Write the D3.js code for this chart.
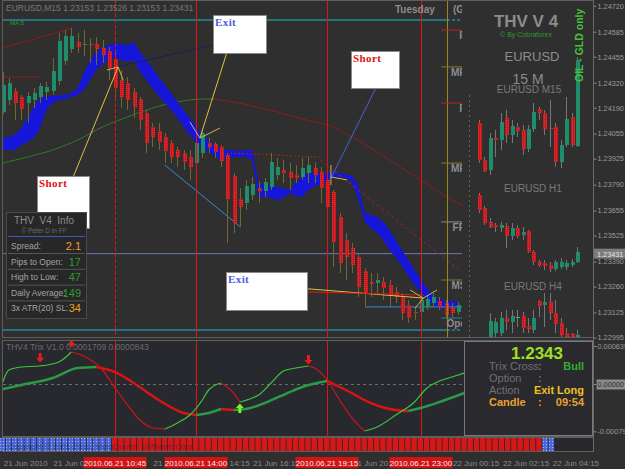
<!DOCTYPE html>
<html>
<head>
<meta charset="utf-8">
<script src="https://cdn.jsdelivr.net/npm/d3@7"></script>
<style>
  body { margin: 0; background: #2f2f2f; }
  svg { display: block; }
  text { font-family: "Liberation Sans", Arial, sans-serif; }
</style>
</head>
<body>
<svg id="chart" width="625" height="469"></svg>
<script>
// EURUSD M15 candles, index 0..73 (visible part of the main window)
var open = [1.24168,1.24230,1.24277,1.24246,1.24214,1.24230,1.24246,1.24272,1.24277,1.24329,
  1.24433,1.24495,1.24532,1.24516,1.24521,1.24521,1.24500,1.24485,1.24443,1.24334,
  1.24318,1.24272,1.24235,1.24162,1.24090,1.24069,1.24038,1.24006,1.23970,1.23954,
  1.23934,1.23902,1.23954,1.24006,1.24001,1.23986,1.23944,1.23835,1.23715,1.23694,
  1.23736,1.23772,1.23757,1.23778,1.23840,1.23866,1.23856,1.23840,1.23830,1.23850,
  1.23876,1.23856,1.23814,1.23752,1.23622,1.23502,1.23460,1.23414,1.23341,1.23284,
  1.23278,1.23284,1.23268,1.23232,1.23206,1.23164,1.23128,1.23128,1.23154,1.23174,
  1.23185,1.23174,1.23148,1.23128];
var high = [1.24376,1.24344,1.24292,1.24256,1.24272,1.24292,1.24318,1.24324,1.24448,1.24578,
  1.24594,1.24604,1.24578,1.24594,1.24552,1.24558,1.24542,1.24506,1.24474,1.24386,
  1.24350,1.24292,1.24246,1.24178,1.24110,1.24110,1.24058,1.24022,1.23986,1.23970,
  1.23970,1.24058,1.24074,1.24032,1.24012,1.23996,1.23954,1.23850,1.23772,1.23814,
  1.23830,1.23804,1.23824,1.23954,1.23928,1.23918,1.23902,1.23892,1.23928,1.23934,
  1.23908,1.23882,1.23830,1.23762,1.23642,1.23538,1.23486,1.23434,1.23356,1.23330,
  1.23330,1.23310,1.23294,1.23258,1.23226,1.23190,1.23154,1.23216,1.23216,1.23226,
  1.23206,1.23190,1.23174,1.23180];
var low = [1.24157,1.24204,1.24126,1.24126,1.24110,1.24188,1.24214,1.24230,1.24256,1.24308,
  1.24412,1.24474,1.24474,1.24459,1.24422,1.24412,1.24422,1.24334,1.24246,1.24188,
  1.24178,1.24136,1.24074,1.23954,1.23986,1.23970,1.23902,1.23902,1.23882,1.23866,
  1.23814,1.23892,1.23928,1.23954,1.23928,1.23882,1.23486,1.23538,1.23570,1.23658,
  1.23710,1.23694,1.23726,1.23762,1.23814,1.23798,1.23762,1.23798,1.23814,1.23798,
  1.23798,1.23694,1.23606,1.23362,1.23330,1.23294,1.23330,1.23206,1.23154,1.23206,
  1.23226,1.23190,1.23154,1.23174,1.23086,1.23070,1.23086,1.23102,1.23138,1.23154,
  1.23138,1.23096,1.23102,1.23112];
var close = [1.24308,1.24318,1.24214,1.24183,1.24251,1.24266,1.24303,1.24298,1.24381,1.24537,
  1.24563,1.24563,1.24506,1.24521,1.24516,1.24495,1.24464,1.24396,1.24292,1.24246,
  1.24230,1.24194,1.24126,1.24006,1.24038,1.24012,1.23965,1.23934,1.23934,1.23908,
  1.23882,1.24006,1.24058,1.23986,1.23960,1.23913,1.23715,1.23590,1.23674,1.23783,
  1.23793,1.23757,1.23804,1.23908,1.23882,1.23850,1.23824,1.23824,1.23876,1.23892,
  1.23840,1.23772,1.23674,1.23492,1.23382,1.23414,1.23372,1.23258,1.23226,1.23273,
  1.23294,1.23252,1.23216,1.23206,1.23122,1.23096,1.23122,1.23190,1.23195,1.23206,
  1.23159,1.23112,1.23122,1.23164];

// blue cloud band
var cloudTop = [1.24032,1.24038,1.24053,1.24084,1.24136,1.24199,1.24240,1.24251,1.24251,1.24256,
  1.24256,1.24266,1.24292,1.24370,1.24438,1.24480,1.24500,1.24516,1.24526,1.24521,
  1.24516,1.24532,1.24480,1.24438,1.24396,1.24350,1.24308,1.24266,1.24220,1.24178,
  1.24136,1.24095,1.24048,1.24022,1.23996,1.23975,1.23970,1.23970,1.23965,1.23970,
  1.23970,1.23798,1.23788,1.23783,1.23778,1.23772,1.23762,1.23804,1.23830,1.23850,
  1.23850,1.23850,1.23850,1.23850,1.23850,1.23845,1.23835,1.23788,1.23642,1.23632,
  1.23622,1.23596,1.23554,1.23502,1.23450,1.23398,1.23346,1.23299,1.23252,1.23211,
  1.23195,1.23185,1.23185,1.23180];
var cloudBot = [1.23970,1.23970,1.23970,1.23996,1.24012,1.24032,1.24084,1.24178,1.24214,1.24230,
  1.24235,1.24246,1.24256,1.24282,1.24334,1.24386,1.24417,1.24438,1.24448,1.24438,
  1.24428,1.24438,1.24376,1.24334,1.24292,1.24251,1.24214,1.24178,1.24136,1.24090,
  1.24048,1.24012,1.23980,1.23960,1.23939,1.23918,1.23934,1.23934,1.23934,1.23934,
  1.23918,1.23720,1.23726,1.23720,1.23710,1.23720,1.23746,1.23731,1.23726,1.23762,
  1.23783,1.23788,1.23814,1.23824,1.23830,1.23824,1.23798,1.23710,1.23596,1.23564,
  1.23538,1.23502,1.23450,1.23408,1.23367,1.23315,1.23268,1.23232,1.23190,1.23164,
  1.23143,1.23148,1.23154,1.23154];

// long moving average
var maIdx = [0,4,8,12,16,20,24,28,32,34,36,40,44,48,52,56,60,64,68,72,74];
var maVal = [1.23902,1.23934,1.23970,1.24022,1.24090,1.24142,1.24188,1.24220,1.24235,1.24235,
  1.24225,1.24199,1.24168,1.24131,1.24100,1.24038,1.23960,1.23876,1.23793,1.23710,1.23680];

// trix lines (lower window)
var fastIdx = [0,1,3,6,9,11,13,16,18,20,22,24,26,28,30,32,33,35,37,38,
  40,41,43,45,48,49,50,52,54,56,58,60,63,66,68,70,72,74];
var fastVal = [0.000033,0.000234,0.000284,0.000301,0.000367,0.000534,0.000468,0.000234,-0.000067,-0.000351,
  -0.000601,-0.000735,-0.000752,-0.000651,-0.000518,-0.000267,-0.000100,0.000017,-0.000150,-0.000301,
  -0.000234,-0.000184,0.000017,0.000217,0.000284,0.000301,0.000267,0.000067,-0.000267,-0.000568,
  -0.000785,-0.000718,-0.000518,-0.000301,-0.000067,0.000050,0.000117,0.000184];
var slowIdx = [0,3,8,12,15,18,21,25,29,31,33,35,37,39,42,46,48,52,55,59,62,65,67,70,74];
var slowVal = [-0.000084,-0.000017,0.000100,0.000267,0.000284,0.000200,0.000017,-0.000267,-0.000484,-0.000518,
  -0.000484,-0.000418,-0.000434,-0.000418,-0.000317,-0.000134,-0.000050,0.000050,-0.000100,-0.000317,
  -0.000418,-0.000451,-0.000401,-0.000301,-0.000150];
var downArrowIdx = [6, 11, 49];
var downArrowVal = [0.000434, 0.000685, 0.000401];
var upArrowIdx = [38];
var upArrowVal = [-0.000401];

// colour bar: 1 = bull (blue), -1 = bear (red)
var barState = [1,1,1,1,1,1,1,1,1,1, 1,1,1,1,1,1,1,1,
  -1,-1,-1,-1,-1,-1,-1,-1,-1,-1, -1,-1,-1,-1,-1,-1,-1,-1,-1,-1,
  -1,-1,-1,-1,-1,-1,-1,-1,-1,-1, -1,-1,-1,-1,-1,-1,-1,-1,-1,-1,
  -1,-1,-1,-1,-1,-1,-1,-1,-1,-1, -1,-1,-1,-1,-1,-1,-1,-1,-1,-1,
  -1,-1,-1,-1,-1,-1,-1,-1,-1, 1,1];

// mini charts in the THV panel
var m15Open = [1.24110,1.23918,1.23866,1.24032,1.24022,1.24136,1.24048,1.24090,1.24074,1.23975,1.24079,1.24183,1.24162,1.24084,1.24090,1.23908,1.23996,1.24142,1.23991];
var m15High = [1.24126,1.23934,1.24058,1.24074,1.24162,1.24178,1.24126,1.24110,1.24100,1.24100,1.24214,1.24194,1.24178,1.24230,1.24110,1.24022,1.24246,1.24162,1.24454];
var m15Low = [1.23902,1.23856,1.23840,1.23934,1.23970,1.24006,1.24006,1.24038,1.23944,1.23960,1.24064,1.24126,1.24048,1.23986,1.23882,1.23876,1.23986,1.23986,1.23986];
var m15Close = [1.23918,1.23861,1.24032,1.24022,1.24116,1.24048,1.24095,1.24069,1.23975,1.24079,1.24168,1.24162,1.24079,1.24079,1.23908,1.23996,1.24131,1.23996,1.24438];
var h1Open = [1.23736,1.23668,1.23596,1.23580,1.23564,1.23575,1.23523,1.23564,1.23528,1.23549,1.23440,1.23388,1.23382,1.23372,1.23351,1.23362,1.23362,1.23372,1.23388];
var h1High = [1.23746,1.23679,1.23616,1.23590,1.23596,1.23590,1.23590,1.23580,1.23570,1.23554,1.23450,1.23398,1.23398,1.23388,1.23398,1.23408,1.23398,1.23403,1.23466];
var h1Low = [1.23642,1.23580,1.23564,1.23544,1.23544,1.23460,1.23502,1.23512,1.23502,1.23434,1.23372,1.23362,1.23346,1.23336,1.23341,1.23351,1.23346,1.23362,1.23382];
var h1Close = [1.23658,1.23590,1.23570,1.23570,1.23580,1.23523,1.23564,1.23523,1.23544,1.23440,1.23388,1.23372,1.23367,1.23351,1.23388,1.23388,1.23382,1.23388,1.23440];
var h4Open = [1.22998,1.23018,1.23018,1.23096,1.23076,1.23102,1.23107,1.23055,1.23034,1.23185,1.23164,1.23180,1.23122,1.23070,1.23018,1.23013,1.22998];
var h4High = [1.23122,1.23096,1.23128,1.23138,1.23138,1.23138,1.23128,1.23096,1.23138,1.23190,1.23226,1.23226,1.23190,1.23096,1.23044,1.23020,1.23034];
var h4Low = [1.22998,1.22998,1.23003,1.23034,1.23018,1.23049,1.23018,1.23018,1.23018,1.23102,1.23049,1.23086,1.23018,1.22998,1.22998,1.22998,1.22998];
var h4Close = [1.23081,1.23076,1.23096,1.23076,1.23107,1.23102,1.23044,1.23039,1.23096,1.23159,1.23180,1.23122,1.23065,1.23008,1.22998,1.22998,1.23008];

// levels, drawn objects, labels
var priceTicks = [1.24720,1.24585,1.24455,1.24320,1.24190,1.24055,1.23925,1.23790,1.23655,1.23525,1.23390,1.23260,1.23125,1.22995];
var lastPrice = 1.23431;
var tealLevels = [1.24646, 1.23034];
var pivotPrice = [1.24594,1.24402,1.24214,1.23902,1.23596,1.23294,1.23096];
var pivotLabel = ["R2","MR2","R1","MR1","FPP","MS1","Open"];
var vLineIdx = [18, 31, 52, 67];
var vLineLabel = ["2010.06.21 10:45","2010.06.21 14:00","2010.06.21 19:15","2010.06.21 23:00"];
var dayLineIdx = 71.2;
var timeIdx = [0,8,24,32,40,56,72,80,88];
var timeLabel = ["21 Jun 2010","21 Jun 08:15","21 Jun 12:15","21 Jun 14:15","21 Jun 16:15",
  "21 Jun 20:15","22 Jun 00:15","22 Jun 02:15","22 Jun 04:15"];
var trixTicks = [0.000635, 0, -0.00079];
var trixTickLabel = ["0.000635","0.00000","-0.00079"];

var redTrend = [[0,1.24500,11.1,1.24604],[0,1.24350,6,1.24350]];
var navyTrend = [[18.3,1.24402,33.7,1.24516]];
var yellowLinks = [[11.3,1.23830,18.5,1.24402],[35.9,1.24474,31.6,1.24032],[43.2,1.23263,67.4,1.23200]];
var blueLinks = [[59.8,1.24292,52.6,1.23824]];
var redLinks = [[48.8,1.23232,67.4,1.23216]];
var lightBlue = [[26.0,1.23892,38.1,1.23570],[58.1,1.23154,73.6,1.23154]];
var redDotted = [[36.4,1.23954,50.9,1.23934]];
var redDashed = [[50.9,1.23918,73.6,1.23336]];
var fanLines = [[18.5,1.24402,16.7,1.24386],[18.5,1.24402,19.3,1.24334],[31.6,1.24032,30.0,1.24116],
  [31.6,1.24032,34.8,1.24084],[52.6,1.23892,52.6,1.23788],[52.6,1.23830,55.2,1.23814],
  [67.4,1.23200,65.3,1.23242],[67.4,1.23200,69.6,1.23242],[67.4,1.23200,66.1,1.23148]];
var boxIdx = [5.5, 33.7, 55.8, 35.8];
var boxPrice = [1.23835, 1.24672, 1.24485, 1.23336];
var boxLabel = ["Short", "Exit", "Short", "Exit"];

var infoRows = ["Spread:", "Pips to Open:", "High to Low:", "Daily Average:", "3x ATR(20) SL:"];
var infoValues = ["2.1", "17", "47", "149", "34"];

// ---------------------------------------------------------------
var svg = d3.select("#chart");
var bg = "#2f2f2f", frameCol = "#5e5e5e", txt = "#8c8c8c";
var upCol = "#1f8c6c", dnCol = "#c8181c", wickCol = "#6e6a2a";
var boxSize = [[52, 52], [53, 38], [48, 37], [81, 38]];
var axisFont = "'Liberation Sans', Arial, sans-serif";

var x = d3.scaleLinear().domain([0, 73]).range([2.7, 458.2]);
var y = d3.scaleLinear().domain([1.2475, 1.2300]).range([0, 336.54]);
var yt = d3.scaleLinear().domain([0.000735, -0.000885]).range([340, 437]);
var xm = d3.scaleLinear().domain([0, 18]).range([479, 577]);

svg.append("rect").attr("width", 625).attr("height", 469).attr("fill", bg);

var defs = svg.append("defs");
defs.append("clipPath").attr("id", "clipMain").append("rect")
  .attr("x", 3).attr("y", 1).attr("width", 590).attr("height", 336);
defs.append("clipPath").attr("id", "clipMini").append("rect")
  .attr("x", 462).attr("y", 1).attr("width", 131).attr("height", 336);
defs.append("clipPath").attr("id", "clipTrix").append("rect")
  .attr("x", 3).attr("y", 341).attr("width", 590).attr("height", 96);
var pat = defs.append("pattern").attr("id", "hatch").attr("width", 3).attr("height", 3)
  .attr("patternUnits", "userSpaceOnUse");
pat.append("rect").attr("width", 3).attr("height", 3).attr("fill", "#4a68dc");
pat.append("rect").attr("width", 1).attr("height", 1).attr("fill", "#a8b8ff");
var redPat = defs.append("pattern").attr("id", "redDots").attr("width", 2).attr("height", 2)
  .attr("patternUnits", "userSpaceOnUse");
redPat.append("rect").attr("width", 2).attr("height", 2).attr("fill", dnCol);
redPat.append("rect").attr("width", 1).attr("height", 1).attr("fill", "#e0343a");

function runs(val) {
  var out = [], cur = [0], up = val[1] >= val[0];
  for (var k = 1; k < val.length; k++) {
    var u = val[k] >= val[k - 1];
    if (u !== up) { out.push({up: up, pts: cur}); cur = [k - 1]; up = u; }
    cur.push(k);
  }
  out.push({up: up, pts: cur});
  return out;
}

function drawRuns(g, idx, val, xs, ys, upC, dnC, w) {
  var line = d3.line().x(function(k) { return xs(idx[k]); })
    .y(function(k) { return ys(val[k]); }).curve(d3.curveMonotoneX);
  runs(val).forEach(function(r) {
    g.append("path").attr("d", line(r.pts)).attr("fill", "none")
      .attr("stroke", r.up ? upC : dnC).attr("stroke-width", w);
  });
}

function segs(g, list, color, width, dash) {
  g.selectAll(null).data(list).join("line")
    .attr("x1", function(d) { return x(d[0]); }).attr("y1", function(d) { return y(d[1]); })
    .attr("x2", function(d) { return x(d[2]); }).attr("y2", function(d) { return y(d[3]); })
    .attr("stroke", color).attr("stroke-width", width || 1)
    .attr("stroke-dasharray", dash || null);
}

function candles(g, xs, o, h, l, c, bw, wc) {
  var idx = d3.range(o.length);
  g.selectAll(null).data(idx).join("line")
    .attr("x1", function(i) { return Math.round(xs(i)) + 0.5; })
    .attr("x2", function(i) { return Math.round(xs(i)) + 0.5; })
    .attr("y1", function(i) { return y(h[i]); }).attr("y2", function(i) { return y(l[i]); })
    .attr("stroke", wc).attr("shape-rendering", "crispEdges");
  g.selectAll(null).data(idx).join("rect")
    .attr("x", function(i) { return Math.round(xs(i)) - Math.floor(bw / 2) + 0.5; })
    .attr("y", function(i) { return y(Math.max(o[i], c[i])); })
    .attr("width", bw)
    .attr("height", function(i) { return Math.max(1, Math.abs(y(o[i]) - y(c[i]))); })
    .attr("fill", function(i) { return c[i] > o[i] ? upCol : (c[i] < o[i] ? "url(#redDots)" : "#8a8a8a"); })
    .attr("shape-rendering", "crispEdges");
}

// ---------------- main window ----------------
var main = svg.append("g").attr("clip-path", "url(#clipMain)");

main.selectAll(null).data(tealLevels).join("line")
  .attr("x1", 3).attr("x2", 447).attr("y1", function(d) { return y(d); }).attr("y2", function(d) { return y(d); })
  .attr("stroke", "#1e8c9c").attr("stroke-width", 1.5);
main.selectAll(null).data(tealLevels).join("line")
  .attr("x1", 447).attr("x2", 462).attr("y1", function(d) { return y(d); }).attr("y2", function(d) { return y(d); })
  .attr("stroke", "#1e8c9c").attr("stroke-width", 1.5).attr("stroke-dasharray", "3,2");
main.append("line").attr("x1", 3).attr("x2", 462).attr("y1", y(lastPrice)).attr("y2", y(lastPrice))
  .attr("stroke", "#6a7ab4");

drawRuns(main, maIdx, maVal, x, y, "#2c7a2c", "#8e1c1c", 1);

main.append("path").datum(d3.range(cloudTop.length))
  .attr("d", d3.area().x(function(i) { return x(i); })
    .y0(function(i) { return y(cloudBot[i]); }).y1(function(i) { return y(cloudTop[i]); }))
  .attr("fill", "#1616d8");

segs(main, redTrend, "#8e1c1c", 1);
segs(main, navyTrend, "#1c1c60", 1);
segs(main, redDotted, "#b02020", 1, "2,2");
segs(main, redDashed, "#a82020", 1, "3,3");
segs(main, lightBlue, "#3a88d0", 1);

candles(main, x, open, high, low, close, 4, wickCol);

main.selectAll(null).data(vLineIdx).join("line")
  .attr("x1", function(d) { return Math.round(x(d)) + 0.5; }).attr("x2", function(d) { return Math.round(x(d)) + 0.5; })
  .attr("y1", 1).attr("y2", 337).attr("stroke", "#e01414")
  .attr("stroke-dasharray", function(d, k) { return k === 0 ? "4,2" : null; });
main.append("line").attr("x1", Math.round(x(dayLineIdx)) + 0.5).attr("x2", Math.round(x(dayLineIdx)) + 0.5)
  .attr("y1", 1).attr("y2", 337).attr("stroke", "#9a8a14");

segs(main, yellowLinks, "#e0c040", 1);
segs(main, redLinks, "#e01818", 1);
segs(main, blueLinks, "#4a64d8", 1);
segs(main, fanLines, "#c8b458", 1);

// pivot levels at right edge (partly hidden by the panel)
main.selectAll(null).data(pivotPrice).join("line")
  .attr("x1", x(70.3)).attr("x2", 462).attr("y1", function(d) { return y(d); }).attr("y2", function(d) { return y(d); })
  .attr("stroke", function(d, k) { return pivotLabel[k][0] === "R" ? "#c02020" : (pivotLabel[k] === "Open" ? "#1e8c9c" : (pivotLabel[k] === "FPP" ? "#8c8c8c" : "#8a7a20")); });
main.selectAll(null).data(pivotPrice).join("text")
  .attr("x", 472).attr("y", function(d) { return y(d) + 9; }).attr("text-anchor", "end")
  .attr("font-size", 10).attr("font-weight", "bold").attr("fill", txt)
  .text(function(d, k) { return pivotLabel[k]; });

// text boxes
var boxes = main.selectAll(null).data(boxIdx).join("g")
  .attr("transform", function(d, k) { return "translate(" + Math.round(x(d)) + "," + Math.round(y(boxPrice[k])) + ")"; });
boxes.append("rect").attr("x", 0.5).attr("y", 0.5)
  .attr("width", function(d, k) { return boxSize[k][0]; }).attr("height", function(d, k) { return boxSize[k][1]; })
  .attr("fill", "#ffffff").attr("stroke", "#8a8a8a");
boxes.append("text").attr("x", 2).attr("y", 11)
  .style("font-family", "'Liberation Serif', 'DejaVu Serif', serif").attr("font-weight", "bold").attr("font-size", 11)
  .attr("letter-spacing", 0.4)
  .attr("fill", function(d, k) { return boxLabel[k] === "Short" ? "#e01010" : "#4a5ce0"; })
  .text(function(d, k) { return boxLabel[k]; });

// top-left labels
main.append("text").attr("x", 6).attr("y", 11).attr("font-size", 8.5).attr("fill", "#787878")
  .text("EURUSD,M15  1.23153 1.23526 1.23153 1.23431");
main.append("text").attr("x", 10).attr("y", 25).attr("font-size", 6).attr("fill", "#2a9a2a").text("МА:5");
main.append("text").attr("x", 395).attr("y", 13).attr("font-size", 10).attr("font-weight", "bold")
  .attr("fill", txt).text("Tuesday");
main.append("text").attr("x", 453).attr("y", 13).attr("font-size", 10).attr("font-weight", "bold")
  .attr("fill", txt).text("(GMT");

// left info panel
var info = main.append("g");
info.append("rect").attr("x", 6.5).attr("y", 212.5).attr("width", 80).attr("height", 106)
  .attr("fill", "#272727").attr("stroke", "#4a4a4a");
info.append("text").attr("x", 44).attr("y", 224).attr("text-anchor", "middle").attr("font-size", 10)
  .attr("fill", txt).attr("xml:space", "preserve").text("THV  V4  Info");
info.append("text").attr("x", 44).attr("y", 233).attr("text-anchor", "middle").attr("font-size", 6.5)
  .attr("fill", "#6a6a6a").text("© Peter D in FF");
info.append("line").attr("x1", 8).attr("x2", 85).attr("y1", 236.5).attr("y2", 236.5).attr("stroke", "#3a58c8");
info.selectAll(null).data(infoRows).join("line")
  .attr("x1", 8).attr("x2", 85)
  .attr("y1", function(d, k) { return 253.5 + k * 15.8; }).attr("y2", function(d, k) { return 253.5 + k * 15.8; })
  .attr("stroke", "#555").attr("opacity", function(d, k) { return k < 4 ? 1 : 0; });
info.selectAll(null).data(infoRows).join("text")
  .attr("x", 11).attr("y", function(d, k) { return 249 + k * 15.6; })
  .attr("font-size", 8.5).attr("fill", "#a4a4a4").text(function(d) { return d; });
info.selectAll(null).data(infoValues).join("text")
  .attr("x", 81).attr("y", function(d, k) { return 250 + k * 15.6; }).attr("text-anchor", "end")
  .attr("font-size", 11)
  .attr("fill", function(d, k) { return (k === 0 || k === 4) ? "#f0a020" : "#2f9a2f"; })
  .text(function(d) { return d; });

// ---------------- THV panel (overlay) ----------------
svg.append("rect").attr("x", 462).attr("y", 1).attr("width", 131).attr("height", 336).attr("fill", bg);
var mini = svg.append("g").attr("clip-path", "url(#clipMini)");
mini.append("line").attr("x1", 469.5).attr("x2", 469.5).attr("y1", 95).attr("y2", 337)
  .attr("stroke", "#666").attr("stroke-dasharray", "2,3");
candles(mini, xm, m15Open, m15High, m15Low, m15Close, 4, "#767676");
candles(mini, xm, h1Open, h1High, h1Low, h1Close, 4, "#767676");
candles(mini, function(i) { return xm(i + 2); }, h4Open, h4High, h4Low, h4Close, 4, "#767676");

mini.append("text").attr("x", 526).attr("y", 27).attr("text-anchor", "middle").attr("font-size", 17)
  .attr("font-weight", "bold").attr("fill", txt).text("THV V 4");
mini.append("text").attr("x", 526).attr("y", 37).attr("text-anchor", "middle").attr("font-size", 7)
  .attr("fill", "#2e9a2e").text("© By Cobraforex");
mini.append("text").attr("x", 532).attr("y", 61).attr("text-anchor", "middle").attr("font-size", 13)
  .attr("fill", txt).text("EURUSD");
mini.append("text").attr("x", 528).attr("y", 84).attr("text-anchor", "middle").attr("font-size", 14)
  .attr("fill", txt).text("15 M");
mini.append("text").attr("x", 529).attr("y", 93).attr("text-anchor", "middle").attr("font-size", 10)
  .attr("fill", "#7a7a7a").text("EURUSD M15");
mini.append("text").attr("x", 533).attr("y", 192).attr("text-anchor", "middle").attr("font-size", 10)
  .attr("fill", "#7a7a7a").text("EURUSD H1");
mini.append("text").attr("x", 533).attr("y", 290).attr("text-anchor", "middle").attr("font-size", 10)
  .attr("fill", "#7a7a7a").text("EURUSD H4");
mini.append("text").attr("transform", "translate(583,82) rotate(-90)").attr("font-size", 10.5)
  .attr("font-weight", "bold").attr("fill", "#44c23c").text("OIL - GLD only");

// frames
svg.append("rect").attr("x", 2.5).attr("y", 0.5).attr("width", 591).attr("height", 337)
  .attr("fill", "none").attr("stroke", frameCol);

// ---------------- trix window ----------------
svg.append("rect").attr("x", 2.5).attr("y", 340.5).attr("width", 591).attr("height", 96)
  .attr("fill", "#28282f").attr("stroke", frameCol);
var trix = svg.append("g").attr("clip-path", "url(#clipTrix)");
trix.append("line").attr("x1", 3).attr("x2", 593).attr("y1", Math.round(yt(0)) + 0.5).attr("y2", Math.round(yt(0)) + 0.5)
  .attr("stroke", "#6a6a6a").attr("stroke-dasharray", "3,3");
trix.selectAll(null).data(vLineIdx).join("line")
  .attr("x1", function(d) { return Math.round(x(d)) + 0.5; }).attr("x2", function(d) { return Math.round(x(d)) + 0.5; })
  .attr("y1", 341).attr("y2", 437).attr("stroke", "#e01414");
drawRuns(trix, slowIdx, slowVal, x, yt, "#2a9a48", "#d81414", 2.5);
drawRuns(trix, fastIdx, fastVal, x, yt, "#3cc83c", "#d01414", 1.2);
trix.selectAll(null).data(downArrowIdx).join("path")
  .attr("transform", function(d, k) { return "translate(" + x(d) + "," + yt(downArrowVal[k]) + ")"; })
  .attr("d", "M-1.5,-5h3v5h2.5l-4,4.5l-4,-4.5h2.5z").attr("fill", "#e41c1c");
trix.selectAll(null).data(upArrowIdx).join("path")
  .attr("transform", function(d, k) { return "translate(" + x(d) + "," + yt(upArrowVal[k]) + ")"; })
  .attr("d", "M-1.5,5h3v-5h2.5l-4,-4.5l-4,4.5h2.5z").attr("fill", "#80f020");
trix.append("text").attr("x", 6).attr("y", 350).attr("font-size", 8.5).attr("fill", "#6c6c6c")
  .text("THV4 Trix V1.0 0.0001709 0.0000843");

// trix info box
var tb = svg.append("g");
tb.append("rect").attr("x", 464.5).attr("y", 341.5).attr("width", 128).attr("height", 94)
  .attr("fill", "#2a2a2e").attr("stroke", "#7a7a7a");
tb.append("text").attr("x", 537).attr("y", 359).attr("text-anchor", "middle").attr("font-size", 17)
  .attr("font-weight", "bold").attr("fill", "#9ee01c").text("1.2343");
var tbRows = [["Trix Cross", ":", "Bull"], ["Option", ":", ""], ["Action", "", "Exit Long"], ["Candle", ":", "09:54"]];
var tbY = [370, 382, 394, 406];
tbRows.forEach(function(r, k) {
  var last = k === 3;
  tb.append("text").attr("x", 489).attr("y", tbY[k]).attr("font-size", 11)
    .attr("font-weight", last ? "bold" : "normal").attr("fill", last ? "#e8a030" : "#707070").text(r[0]);
  tb.append("text").attr("x", 538).attr("y", tbY[k]).attr("font-size", 11)
    .attr("font-weight", "bold").attr("fill", last ? "#e8a030" : "#707070").text(r[1]);
  tb.append("text").attr("x", 584).attr("y", tbY[k]).attr("text-anchor", "end").attr("font-size", 11)
    .attr("font-weight", "bold").attr("fill", k === 0 ? "#30b030" : (k === 2 ? "#f0c020" : "#e8a030")).text(r[2]);
});

// ---------------- colour bar window ----------------
svg.append("rect").attr("x", 2.5).attr("y", 437.5).attr("width", 591).attr("height", 14)
  .attr("fill", "#28282f").attr("stroke", frameCol);
svg.append("g").selectAll(null).data(barState).join("rect")
  .attr("x", function(d, i) { return x(i) - 3.12; }).attr("y", 438)
  .attr("width", 5.4).attr("height", 13)
  .attr("fill", function(d) { return d > 0 ? "url(#hatch)" : "#d41818"; });
svg.append("text").attr("x", 8).attr("y", 449).attr("font-size", 8).attr("fill", "#1a1a40").attr("opacity", 0.45)
  .text("Copyright © 2001-2010, MetaQuotes Software Corp.");

// ---------------- axes ----------------
var ag = svg.append("g").attr("transform", "translate(593.5,0)")
  .call(d3.axisRight(y).tickValues(priceTicks).tickFormat(d3.format(".5f")).tickSize(3).tickPadding(1));
ag.select(".domain").remove();
ag.selectAll("line").attr("stroke", "#8c8c8c");
ag.selectAll("text").attr("fill", "#9a9a9a").style("font-size", "7.3px").style("font-family", axisFont);
svg.append("rect").attr("x", 594).attr("y", y(lastPrice) - 5).attr("width", 31).attr("height", 10).attr("fill", "#7c7c7c");
svg.append("text").attr("x", 597).attr("y", y(lastPrice) + 3).attr("font-size", 7.3).attr("fill", "#e4e4e4")
  .text(d3.format(".5f")(lastPrice));

var tg = svg.append("g").attr("transform", "translate(593.5,0)")
  .call(d3.axisRight(yt).tickValues(trixTicks).tickFormat(function(d, k) { return trixTickLabel[k]; }).tickSize(3).tickPadding(1));
tg.select(".domain").remove();
tg.selectAll("line").attr("stroke", "#8c8c8c");
tg.selectAll("text").attr("fill", "#9a9a9a").style("font-size", "7.3px").style("font-family", axisFont);
tg.selectAll(".tick").filter(function(d) { return d === 0; }).insert("rect", "text")
  .attr("x", 3).attr("y", -5).attr("width", 29).attr("height", 10).attr("fill", "#8a8a8a");
tg.selectAll(".tick").filter(function(d) { return d === 0; }).select("text").attr("fill", "#2a2a2a");

svg.append("line").attr("x1", 593.5).attr("x2", 593.5).attr("y1", 0).attr("y2", 452).attr("stroke", "#6a6a6a");

// time axis
svg.selectAll(null).data(timeIdx).join("text")
  .attr("x", function(d) { return x(d) + 1; }).attr("y", 466)
  .attr("font-size", 8).attr("fill", "#8c8c8c").text(function(d, k) { return timeLabel[k]; });
var tl = svg.selectAll(null).data(vLineIdx).join("g")
  .attr("transform", function(d) { return "translate(" + Math.round(x(d)) + ",457)"; });
tl.append("rect").attr("x", -31.5).attr("y", 0).attr("width", 63).attr("height", 11).attr("fill", "#d41414");
tl.append("text").attr("x", 0).attr("y", 9).attr("text-anchor", "middle").attr("font-size", 8)
  .attr("fill", "#f0f0f0").text(function(d, k) { return vLineLabel[k]; });
</script>
</body>
</html>
